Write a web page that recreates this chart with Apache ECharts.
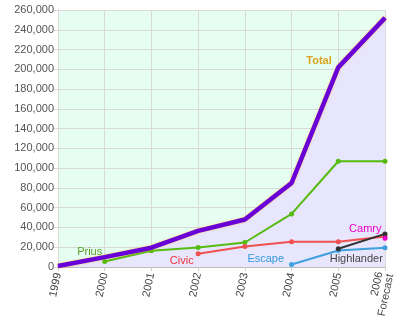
<!DOCTYPE html>
<html><head><meta charset="utf-8">
<script src="https://cdn.jsdelivr.net/npm/echarts@6/dist/echarts.min.js"></script>
<style>html,body{margin:0;padding:0;background:#fff}#c{width:411px;height:327px}</style>
</head><body><div id="c"></div>
<script>
const years = ['1999','2000','2001','2002','2003','2004','2005','2006\nForecast'];
const total = [1000, 10000, 19500, 36500, 48000, 85000, 202000, 252000];
const prius = [null, 5600, 16400, 19800, 24800, 53700, 107000, 107000];
const civic = [null, null, null, 13400, 20800, 25500, 25500, 30800];
const escape = [null, null, null, null, null, 2600, 16700, 19500];
const highlander = [null, null, null, null, null, null, 18400, 33500];
const camry = [null, null, null, null, null, null, null, 29200];
const yTicks = {min: 0, max: 260000, interval: 20000};

const font = 'Liberation Sans, Arial, sans-serif';
function lbl(arr, idx, text, color, pos, offset, bold) {
  return arr.map((v, i) => i === idx ? {value: v, label: {show: true, formatter: text, color: color, position: pos, offset: offset, fontSize: 11, fontWeight: bold ? 'bold' : 'normal', fontFamily: font}} : v);
}
function lineSeries(name, data, color) {
  return {name, type: 'line', data, color, symbol: 'circle', symbolSize: 5, showSymbol: true,
    lineStyle: {width: 2, color}, itemStyle: {color}, z: 3, connectNulls: false, animation: false};
}
const chart = echarts.init(document.getElementById('c'));
chart.setOption({
  animation: false,
  grid: {left: 58, right: 26, top: 10, bottom: 60, show: true, backgroundColor: '#e6fdf1', borderWidth: 0},
  xAxis: {type: 'category', data: years, boundaryGap: false,
    axisLine: {lineStyle: {color: '#bbb'}}, axisTick: {show: true, length: 4, lineStyle: {color: '#ccc'}},
    axisLabel: {rotate: 78, color: '#444', fontSize: 11, fontFamily: font, interval: 0, margin: 6},
    splitLine: {show: true, lineStyle: {color: '#d9d9d9', width: 1}}},
  yAxis: {type: 'value', min: yTicks.min, max: yTicks.max, interval: yTicks.interval,
    axisLine: {show: true, lineStyle: {color: '#d9d9d9'}}, axisTick: {show: true, length: 5, lineStyle: {color: '#d9d9d9'}},
    axisLabel: {color: '#555', fontSize: 11, fontFamily: font, margin: 4,
      formatter: v => v.toLocaleString('en-US')},
    splitLine: {show: true, lineStyle: {color: '#d9d9d9', width: 1}}},
  series: [
    {name: 'TotalArea', type: 'line', data: total, showSymbol: false, symbol: 'none',
      lineStyle: {width: 0}, areaStyle: {color: '#e7e6fd', opacity: 1}, z: 1, silent: true},
    lineSeries('Prius', lbl(prius, 1, 'Prius', '#5a9e2a', 'left', [5, -9]), '#55bb10'),
    lineSeries('Civic', lbl(civic, 3, 'Civic', '#ee3333', 'left', [3, 7]), '#f05050'),
    lineSeries('Escape', lbl(escape, 5, 'Escape', '#3399dd', 'left', [0, -5]), '#3fa0dd'),
    lineSeries('Highlander', lbl(highlander, 6, 'Highlander', '#444', 'bottom', [18, -3]), '#333333'),
    lineSeries('Camry', lbl(camry, 7, 'Camry', '#ee00cc', 'left', [4, -9]), '#ee00cc'),
    {name: 'Total', type: 'line', data: lbl(total, 6, 'Total', '#d9a520', 'left', [-1, -6], true),
      symbol: 'circle', symbolSize: 1, showSymbol: true, z: 5,
      itemStyle: {color: '#6a00d8'},
      lineStyle: {width: 4.5, color: '#6a00d8', shadowColor: 'rgba(255,180,0,0.7)', shadowBlur: 2}}
  ]
});
</script></body></html>
